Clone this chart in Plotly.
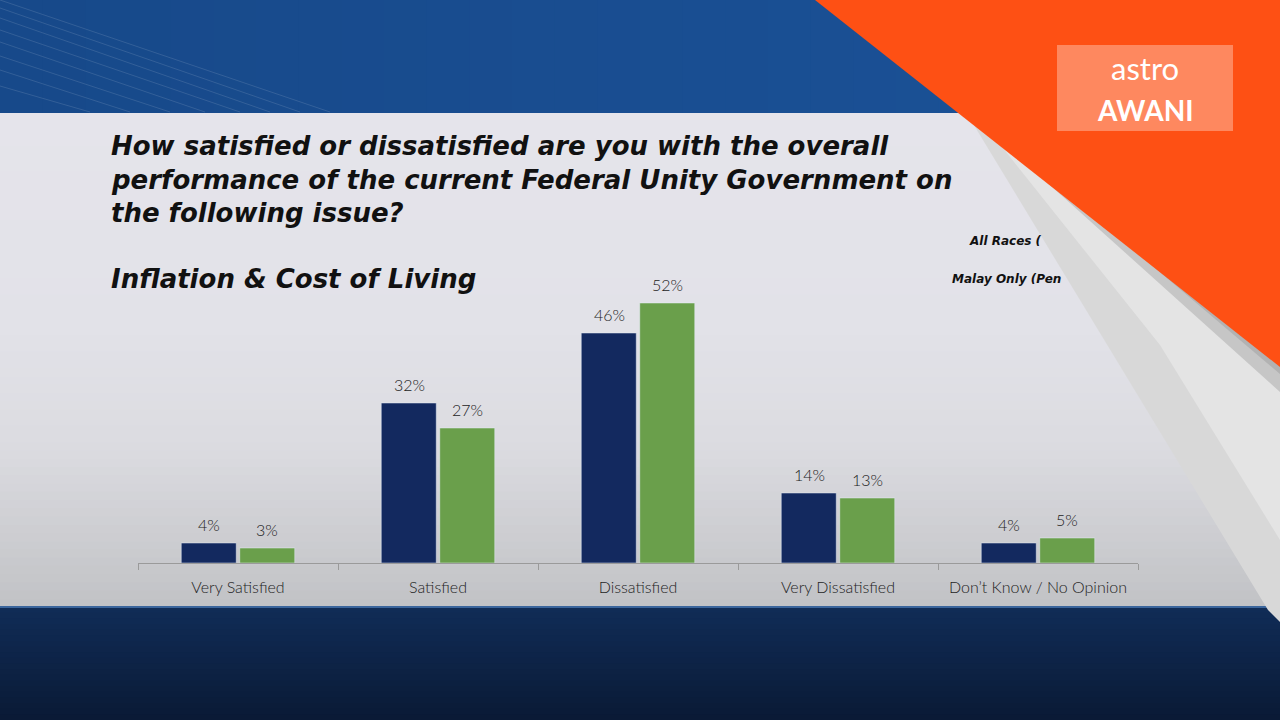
import plotly.graph_objects as go

# survey answers and the two samples
categories = ['Very Satisfied', 'Satisfied', 'Dissatisfied', 'Very Dissatisfied', "Don’t Know / No Opinion"]
all_races = [4, 32, 46, 14, 4]
malay_only = [3, 27, 52, 13, 5]
series_names = ['All Races (', 'Malay Only (Pen']

navy = '#13295f'
green = '#6a9f4b'

# plot area in pixels: x 138..1138, y 263..563 (0..60 %)
L, R, T, B = 138, 1138, 263, 563


def px(x):
    return (x - L) / (R - L)


def py(y):
    return (B - y) / (B - T)


def rect(x0, y0, x1, y1, color, layer='below'):
    return dict(type='rect', xref='paper', yref='paper', x0=px(x0), x1=px(x1),
                y0=py(y1), y1=py(y0), fillcolor=color, line_width=0, layer=layer)


def poly(points, color, layer='below'):
    path = 'M ' + ' L '.join(f'{px(a)},{py(b)}' for a, b in points) + ' Z'
    return dict(type='path', xref='paper', yref='paper', path=path,
                fillcolor=color, line_width=0, layer=layer)


def mix(c0, c1, t):
    a = [int(c0[i:i + 2], 16) for i in (1, 3, 5)]
    b = [int(c1[i:i + 2], 16) for i in (1, 3, 5)]
    return '#' + ''.join(f'{round(u + (v - u) * t):02x}' for u, v in zip(a, b))


fig = go.Figure()
fig.add_trace(go.Bar(x=categories, y=all_races, name=series_names[0], marker_color=navy))
fig.add_trace(go.Bar(x=categories, y=malay_only, name=series_names[1], marker_color=green))

shapes = []
# top blue band with faint lines
n = 30
for i in range(n):
    shapes.append(rect(i * 1280 / n, 0, (i + 1) * 1280 / n + 1, 113, mix('#17498a', '#1b5298', i / (n - 1))))
for y0, x1 in [(0, 330), (8, 300), (18, 270), (30, 240), (42, 205), (56, 170), (70, 130), (86, 90)]:
    shapes.append(dict(type='line', xref='paper', yref='paper', x0=px(0), y0=py(y0), x1=px(x1), y1=py(112),
                       line=dict(color='rgba(255,255,255,0.12)', width=1), layer='below'))

# slide panel with a soft vertical gradient
stops = [(113, '#e5e4eb'), (330, '#e2e2e8'), (450, '#dbdbe0'), (607, '#c1c2c5')]
n = 60
step = (607 - 113) / n
for i in range(n):
    yc = 113 + (i + 0.5) * step
    for (ya, ca), (yb, cb) in zip(stops, stops[1:]):
        if ya <= yc <= yb:
            c = mix(ca, cb, (yc - ya) / (yb - ya))
    shapes.append(rect(0, 113 + i * step, 1280, 113 + (i + 1) * step + 1, c))

# bottom navy band
n = 20
step = (720 - 607) / n
for i in range(n):
    shapes.append(rect(0, 607 + i * step, 1280, 607 + (i + 1) * step + 1, mix('#102c56', '#0a1a36', i / (n - 1))))
shapes.append(rect(0, 606, 1280, 608, '#3a659c'))

# page curl
shapes.append(poly([(972, 122), (1280, 367), (1280, 622), (1268, 610)], '#d8d8d8'))
shapes.append(poly([(990, 132), (1280, 367), (1280, 540), (1160, 345)], '#e4e4e4'))
shapes.append(poly([(972, 122), (1280, 367), (1280, 392), (1000, 140)], '#c6c6c6'))
shapes.append(poly([(980, 126), (1280, 364), (1280, 374), (1010, 145)], '#b2b2b2'))

# orange corner and logo
shapes.append(poly([(815, 0), (1280, 0), (1280, 367)], '#fe5014'))
shapes.append(rect(1057, 45, 1233, 131, 'rgba(255,255,255,0.32)'))

annotations = []
# title block
for text, y in [('How satisfied or dissatisfied are you with the overall', 146),
                ('performance of the current Federal Unity Government on', 180),
                ('the following issue?', 213),
                ('Inflation & Cost of Living', 279)]:
    annotations.append(dict(text=text, xref='paper', yref='paper', x=px(109), y=py(y),
                            xanchor='left', yanchor='middle', showarrow=False,
                            font=dict(family='DejaVu Sans', size=26, color='#111111',
                                      weight='bold', style='italic')))

# legend labels (cut by the page curl)
for text, x, y in [(series_names[0], 967, 241), (series_names[1], 950, 279)]:
    annotations.append(dict(text=text, xref='paper', yref='paper', x=px(x), y=py(y),
                            xanchor='left', yanchor='middle', showarrow=False,
                            font=dict(family='DejaVu Sans', size=12, color='#111111',
                                      weight='bold', style='italic')))

# value labels above the bars
for vals, shift in [(all_races, -29), (malay_only, 29)]:
    for cat, v in zip(categories, vals):
        annotations.append(dict(text=f'{v}%', x=cat, y=v, xref='x', yref='y',
                                xshift=shift, yshift=7, xanchor='center', yanchor='bottom', showarrow=False,
                                font=dict(family='Lato', size=16, color='#1c1c1c', weight=300)))

# logo text
annotations.append(dict(text='astro', xref='paper', yref='paper', x=px(1145), y=py(68),
                        xanchor='center', yanchor='middle', showarrow=False,
                        font=dict(family='Lato', size=31, color='white')))
annotations.append(dict(text='AWANI', xref='paper', yref='paper', x=px(1145), y=py(110),
                        xanchor='center', yanchor='middle', showarrow=False,
                        font=dict(family='Lato', size=28, color='white', weight='bold')))

fig.update_layout(
    width=1280, height=720,
    margin=dict(l=L, r=1280 - R, t=T, b=720 - B),
    paper_bgcolor='#184b8d',
    plot_bgcolor='rgba(0,0,0,0)',
    barmode='group',
    bargap=0.415,
    bargroupgap=0.06,
    showlegend=False,
    shapes=shapes,
    annotations=annotations,
    xaxis=dict(type='category', showline=True, linecolor='#9a9a9a', linewidth=1,
               ticks='outside', tickson='boundaries', ticklen=6, tickcolor='#9a9a9a',
               showgrid=False, ticklabelstandoff=10,
               tickfont=dict(family='Lato', size=16, color='#1e1e1e', weight=300)),
    yaxis=dict(range=[0, 60], visible=False),
)

fig.write_html("out.html", config={'displayModeBar': False},
               post_script="document.body.style.margin='0';")
